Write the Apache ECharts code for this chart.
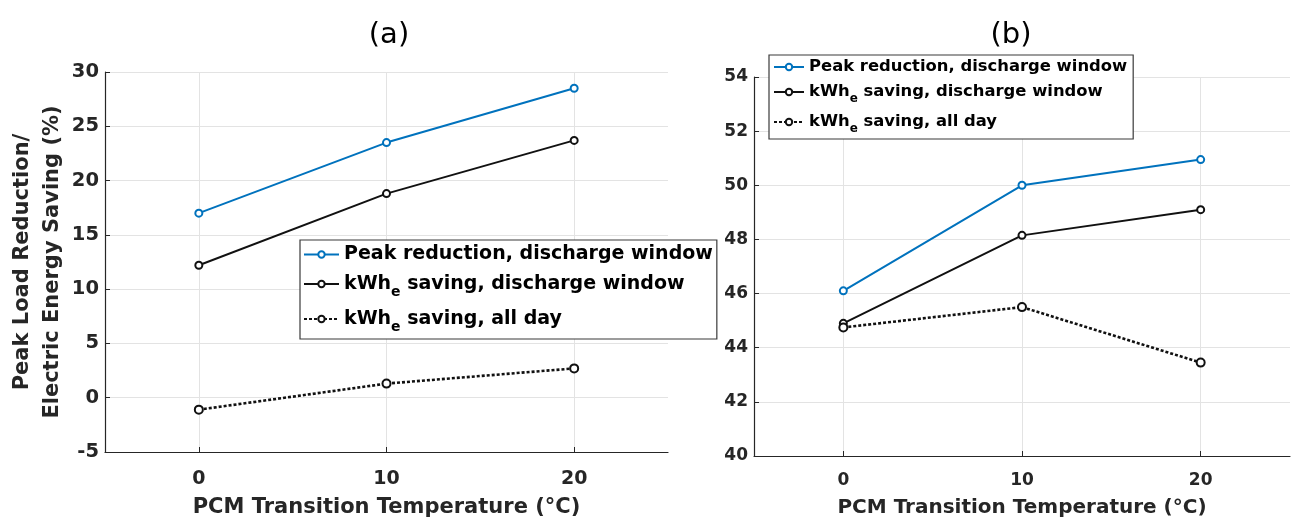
<!DOCTYPE html>
<html>
<head>
<meta charset="utf-8">
<script src="https://cdn.jsdelivr.net/npm/echarts@6/dist/echarts.min.js"></script>
<style>
html,body{margin:0;padding:0;background:#fff;}
#chart{width:1291px;height:523px;}
</style>
</head>
<body>
<div id="chart"></div>
<script>
// ---- data ----
const xValues = [0, 10, 20];
const xTickValues = [0, 10, 20];
const seriesNames = ['Peak reduction, discharge window', 'kWhe saving, discharge window', 'kWhe saving, all day'];
// panel (a)
const peakA = [17.0, 23.5, 28.5];
const kwhWindowA = [12.2, 18.8, 23.7];
const kwhAllDayA = [-1.1, 1.3, 2.7];
// panel (b)
const peakB = [46.1, 50.0, 50.95];
const kwhWindowB = [44.9, 48.15, 49.1];
const kwhAllDayB = [44.75, 45.5, 43.45];
const panelTitles = ['(a)', '(b)'];
const xTitle = 'PCM Transition Temperature (°C)';
const yTitleA = 'Peak Load Reduction/\nElectric Energy Saving (%)';

const BLUE = '#0072BD';
const AX = '#262626';
const FONT = 'DejaVu Sans';

function pairs(vals) { return xValues.map((x, i) => [x, vals[i]]); }

function legendFmt(name) {
  if (name.indexOf('kWhe') === 0) {
    return '{n|kWh}{sub|e}{n|' + name.slice(4) + '}';
  }
  return '{n|' + name + '}';
}

function mkXAxis(idx, fs, labelMargin, nameFs, nameGap) {
  return {
    type: 'value', gridIndex: idx, min: -5, max: 25,
    name: xTitle, nameLocation: 'middle', nameGap: nameGap,
    nameTextStyle: { fontFamily: FONT, fontWeight: 'bold', fontSize: nameFs, color: AX },
    axisLine: { show: true, onZero: false, lineStyle: { color: AX, width: 1.2 } },
    axisTick: { show: true, inside: true, length: 5, customValues: xTickValues, lineStyle: { color: AX } },
    axisLabel: { customValues: xTickValues, margin: labelMargin, fontFamily: FONT, fontWeight: 'bold', fontSize: fs, color: AX },
    splitLine: { show: true, lineStyle: { color: '#e3e3e3', width: 1 } }
  };
}
function mkYAxis(idx, min, max, interval, fs, extra) {
  return Object.assign({
    type: 'value', gridIndex: idx, min: min, max: max, interval: interval,
    axisLine: { show: true, onZero: false, lineStyle: { color: AX, width: 1.2 } },
    axisTick: { show: true, inside: true, length: 5, lineStyle: { color: AX } },
    axisLabel: { margin: 6, fontFamily: FONT, fontWeight: 'bold', fontSize: fs, color: AX },
    splitLine: { show: true, lineStyle: { color: '#e3e3e3', width: 1 } }
  }, extra || {});
}
function mkSeries(idx, peak, win, all, sym) {
  return [
    { name: seriesNames[0], type: 'line', xAxisIndex: idx, yAxisIndex: idx, data: pairs(peak),
      symbol: 'emptyCircle', symbolSize: sym, color: BLUE,
      lineStyle: { color: BLUE, width: 2 }, itemStyle: { color: BLUE, borderWidth: 1.6 } },
    { name: seriesNames[1], type: 'line', xAxisIndex: idx, yAxisIndex: idx, data: pairs(win),
      symbol: 'emptyCircle', symbolSize: sym, color: '#000',
      lineStyle: { color: '#111', width: 2 }, itemStyle: { color: '#111', borderWidth: 1.6 } },
    { name: seriesNames[2], type: 'line', xAxisIndex: idx, yAxisIndex: idx, data: pairs(all),
      symbol: 'emptyCircle', symbolSize: sym + 1, color: '#000',
      lineStyle: { color: '#111', width: 2.6, type: [3, 2] }, itemStyle: { color: '#111', borderWidth: 3 } }
  ];
}
function mkLegend(idx, left, top, fs, subFs, itemW, gap, pad) {
  return {
    show: true, orient: 'vertical', left: left, top: top,
    data: seriesNames, formatter: legendFmt,
    itemWidth: itemW, itemHeight: 8, itemGap: gap, padding: pad,
    backgroundColor: '#fff', borderColor: '#3a3a3a', borderWidth: 1.2, borderRadius: 0,
    selectedMode: false,
    textStyle: {
      rich: {
        n: { fontFamily: FONT, fontWeight: 'bold', fontSize: fs, color: '#000', lineHeight: fs + 3, verticalAlign: 'middle' },
        sub: { fontFamily: FONT, fontWeight: 'bold', fontSize: subFs, color: '#000', lineHeight: subFs, padding: [subFs + 2, 0, 0, 0], verticalAlign: 'middle' }
      }
    }
  };
}

const chart = echarts.init(document.getElementById('chart'), null, { renderer: 'canvas' });
chart.setOption({
  animation: false,
  backgroundColor: '#fff',
  title: [
    { text: panelTitles[0], left: 384, top: 14, textAlign: 'center',
      textStyle: { fontFamily: FONT, fontWeight: 'normal', fontSize: 29, color: '#000', lineHeight: 32 } },
    { text: panelTitles[1], left: 1006, top: 14, textAlign: 'center',
      textStyle: { fontFamily: FONT, fontWeight: 'normal', fontSize: 29, color: '#000', lineHeight: 32 } }
  ],
  grid: [
    { left: 105, top: 72, width: 563, height: 382, containLabel: false },
    { left: 754, top: 77, width: 536, height: 381, containLabel: false }
  ],
  xAxis: [mkXAxis(0, 19, 18, 21, 45), mkXAxis(1, 17, 16, 20, 42)],
  yAxis: [
    mkYAxis(0, -5, 30, 5, 19.5, {
      name: yTitleA, nameLocation: 'middle', nameGap: 34,
      nameTextStyle: { fontFamily: FONT, fontWeight: 'bold', fontSize: 21, color: AX, lineHeight: 30 }
    }),
    mkYAxis(1, 40, 54, 2, 17)
  ],
  legend: [
    mkLegend(0, 300, 240, 19, 14, 35, 5, [5, 4, 5, 3]),
    mkLegend(1, 769, 55, 16.4, 12, 30, 4, [4, 6, 4, 4])
  ],
  series: mkSeries(0, peakA, kwhWindowA, kwhAllDayA, 7).concat(mkSeries(1, peakB, kwhWindowB, kwhAllDayB, 7))
});
</script>
</body>
</html>
